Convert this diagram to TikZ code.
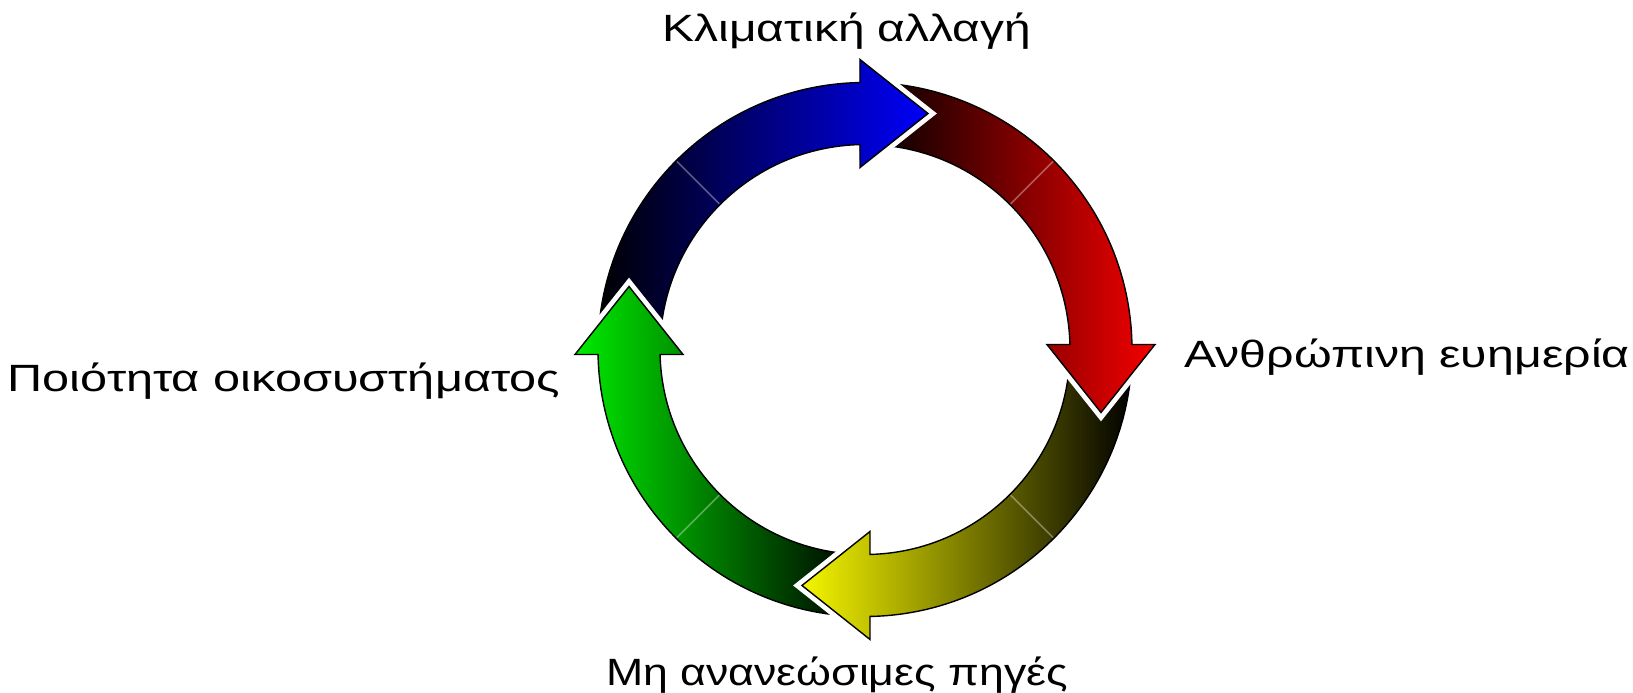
\documentclass[tikz,border=0pt]{standalone}
\usepackage{fontspec}
\setmainfont{Liberation Sans}
\newfontfamily\lblfontA[FakeStretch=1.26]{Liberation Sans}
\newfontfamily\lblfontB[FakeStretch=1.27]{Liberation Sans}
\newfontfamily\lblfontC[FakeStretch=1.175]{Liberation Sans}
\newfontfamily\lblfontD[FakeStretch=1.28]{Liberation Sans}
\newcommand\cyclearrow[1]{%
  (#1+178:267) arc[start angle=#1+178, end angle=#1+91.07, radius=267]
  -- (#1+90.99:290.04) -- (#1+75.05:244.26) -- (#1+91.57:182.07)
  -- (#1+91.40:205) arc[start angle=#1+91.40, end angle=#1+178, radius=205] -- cycle}
\newcommand\cyclehalo[1]{(#1+90.99:290.04) -- (#1+75.05:244.26) -- (#1+91.57:182.07)}
\definecolor{cblue}{RGB}{0,0,250}
\definecolor{cred}{RGB}{245,0,0}
\definecolor{cyel}{RGB}{245,245,0}
\definecolor{cgreen}{RGB}{0,235,0}
\tikzset{
  arrowbody/.style={draw=black, line width=1.4, line join=miter},
  halo/.style={draw=white, line width=11, line join=miter},
  divider/.style={draw=white, opacity=0.35, line width=1.5},
  label/.style={anchor=base, inner sep=0pt}
}
\begin{document}
\begin{tikzpicture}[x=1pt,y=1pt]
\useasboundingbox (-865,-343.5) rectangle (768,349.5);
% bodies
\path[arrowbody, left color=black, right color=cblue] \cyclearrow{0};
\path[arrowbody, left color=black, right color=cred] \cyclearrow{-90};
\path[arrowbody, left color=cyel, right color=black] \cyclearrow{-180};
\path[arrowbody, left color=cgreen, right color=black] \cyclearrow{-270};
% dividers
\draw[divider] (135:206) -- (135:266);
\draw[divider] (45:206) -- (45:266);
\draw[divider] (-45:206) -- (-45:266);
\draw[divider] (-135:206) -- (-135:266);
% heads redrawn over next tails
\begin{scope}
  \clip[rotate=0] (-5,0) rectangle (420,420);
  \path[halo] \cyclehalo{0};
  \path[arrowbody, left color=black, right color=cblue] \cyclearrow{0};
\end{scope}
\begin{scope}
  \clip[rotate=-90] (-5,0) rectangle (420,420);
  \path[halo] \cyclehalo{-90};
  \path[arrowbody, left color=black, right color=cred] \cyclearrow{-90};
\end{scope}
\begin{scope}
  \clip[rotate=-180] (-5,0) rectangle (420,420);
  \path[halo] \cyclehalo{-180};
  \path[arrowbody, left color=cyel, right color=black] \cyclearrow{-180};
\end{scope}
\begin{scope}
  \clip[rotate=-270] (-5,0) rectangle (420,420);
  \path[halo] \cyclehalo{-270};
  \path[arrowbody, left color=cgreen, right color=black] \cyclearrow{-270};
\end{scope}
% labels
\node[label, font=\lblfontA\fontsize{38}{46}\selectfont] (climate) at (-18,307.5) {Κλιματική αλλαγή};
\node[label, font=\lblfontB\fontsize{38}{46}\selectfont] (welfare) at (542,-18.5) {Ανθρώπινη ευημερία};
\node[label, font=\lblfontC\fontsize{38}{46}\selectfont] (resources) at (-28,-335.5) {Μη ανανεώσιμες πηγές};
\node[label, font=\lblfontD\fontsize{38}{46}\selectfont] (ecosystem) at (-581,-42.5) {Ποιότητα οικοσυστήματος};
\end{tikzpicture}
\end{document}
